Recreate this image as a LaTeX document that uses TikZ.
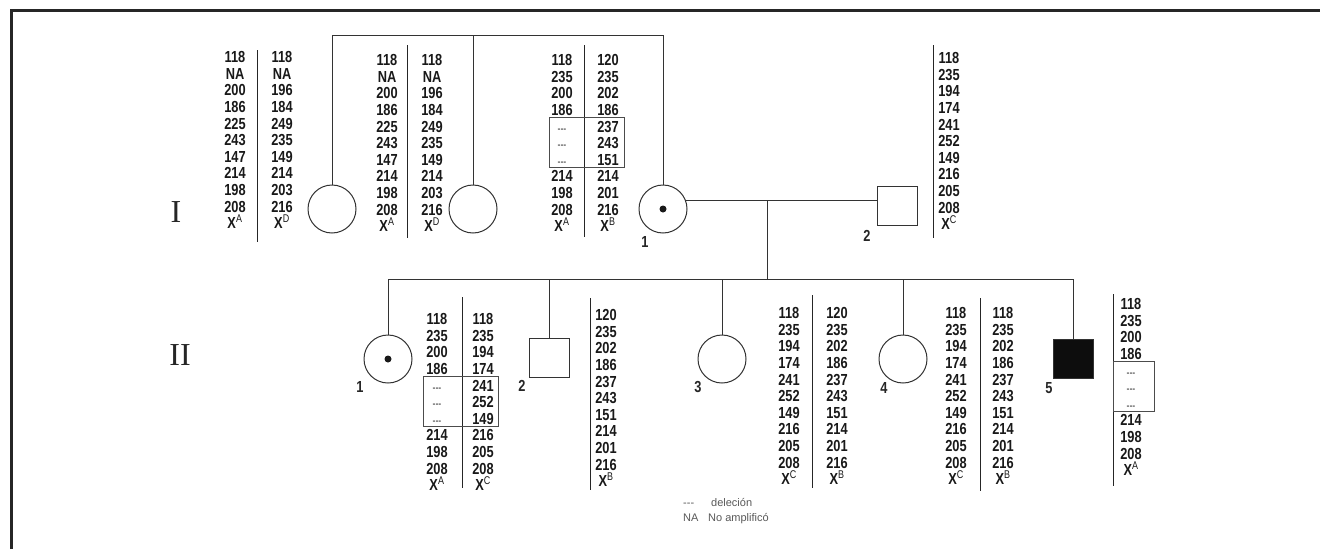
\documentclass[tikz,border=0pt]{standalone}
\usepackage{fontspec}
\newfontfamily\alfont[FakeStretch=0.8]{Liberation Sans}
\newfontfamily\legfont{Liberation Sans}
\newfontfamily\romfont{Liberation Serif}
\newcommand\xs[1]{X\textsuperscript{\mdseries #1}}
\newcommand\dl{{\mdseries\fontsize{11}{11}\selectfont -{}-{}-}}
\newcommand\allelecol[4]{%
  \foreach \v [count=\i] in {#4} {
    \node[al] (#1\i) at ({#2},{#3+16.6*(\i-1)+5.7}) {\v};
  }%
}
\tikzset{
  al/.style={anchor=base, inner sep=0pt, text=black!90,
    font=\alfont\bfseries\fontsize{16}{16}\selectfont},
  lbl/.style={inner sep=0pt, text=black!85,
    font=\alfont\bfseries\fontsize{16}{16}\selectfont},
  ped/.style={draw=black!80, line width=1pt},
  fem/.style={circle, ped, minimum size=48pt, inner sep=0pt},
  mal/.style={rectangle, ped, minimum width=40pt, minimum height=39pt, inner sep=0pt},
  dot/.style={circle, fill=black!90, minimum size=7pt, inner sep=0pt},
  sep/.style={draw=black!85, line width=0.9pt},
  delbox/.style={draw=black!70, line width=1pt},
  gen/.style={inner sep=0pt, text=black!85, font=\romfont\fontsize{32}{32}\selectfont},
  leg/.style={anchor=base west, inner sep=0pt, text=black!65, font=\legfont\fontsize{11}{11}\selectfont}
}
\begin{document}
\begin{tikzpicture}[x=1pt,y=-1pt]
\useasboundingbox (0,0) rectangle (1320,549);
\fill[white] (0,0) rectangle (1320,549);
% frame
\draw[line width=3pt, draw=black!85] (11.5,549) -- (11.5,10.5) -- (1320,10.5);

% generation labels
\node[gen] (gI) at (176,212) {I};
\node[gen] (gII) at (180,355) {II};

% ---------- Generation I ----------
\node[fem] (IA) at (332,209) {};
\node[fem] (IB) at (473,209) {};
\node[fem] (I1) at (663,209) {};
\node[dot] (I1d) at (I1) {};
\node[mal] (I2) at (897,205.5) {};
\node[lbl] (I1l) at (645,242) {1};
\node[lbl] (I2l) at (867,236) {2};

\coordinate (topI) at (0,35);
\draw[ped] (IA.north) -- (IA.north |- topI) -- (I1.north |- topI) -- (I1.north);
\draw[ped] (IB.north) -- (IB.north |- topI);
\draw[ped] (I1.20) -- (I1.20 -| I2.west);
\coordinate (mI) at (767,201);
\coordinate (sII) at (767,279);
\draw[ped] (mI) -- (sII);

% ---------- Generation II ----------
\node[fem] (II1) at (388,359) {};
\node[dot] (II1d) at (II1) {};
\node[mal] (II2) at (549,357.5) {};
\node[fem] (II3) at (722,359) {};
\node[fem] (II4) at (903,359) {};
\node[mal, fill=black!95] (II5) at (1073,359) {};
\node[lbl] (II1l) at (360,387) {1};
\node[lbl] (II2l) at (522,386) {2};
\node[lbl] (II3l) at (698,387) {3};
\node[lbl] (II4l) at (884,388) {4};
\node[lbl] (II5l) at (1049,388) {5};

\draw[ped] (II1.north) -- (II1.north |- sII) -- (II5.north |- sII) -- (II5.north);
\draw[ped] (II2.north) -- (II2.north |- sII);
\draw[ped] (II3.north) -- (II3.north |- sII);
\draw[ped] (II4.north) -- (II4.north |- sII);

% ---------- allele columns, generation I ----------
\allelecol{aL}{235}{57}{118,NA,200,186,225,243,147,214,198,208,{\xs{A}}}
\allelecol{aR}{282}{57}{118,NA,196,184,249,235,149,214,203,216,{\xs{D}}}
\draw[sep] (257,50) -- (257,242);

\allelecol{bL}{387}{60}{118,NA,200,186,225,243,147,214,198,208,{\xs{A}}}
\allelecol{bR}{432}{60}{118,NA,196,184,249,235,149,214,203,216,{\xs{D}}}
\draw[sep] (407,45) -- (407,238);

\allelecol{cL}{562}{60}{118,235,200,186,{\dl},{\dl},{\dl},214,198,208,{\xs{A}}}
\allelecol{cR}{608}{60}{120,235,202,186,237,243,151,214,201,216,{\xs{B}}}
\draw[sep] (584,45) -- (584,237);
\draw[delbox] (549,117) rectangle (624,167);

\allelecol{dR}{949}{58}{118,235,194,174,241,252,149,216,205,208,{\xs{C}}}
\draw[sep] (933,45) -- (933,238);

% ---------- allele columns, generation II ----------
\allelecol{eL}{437}{319}{118,235,200,186,{\dl},{\dl},{\dl},214,198,208,{\xs{A}}}
\allelecol{eR}{483}{319}{118,235,194,174,241,252,149,216,205,208,{\xs{C}}}
\draw[sep] (462,297) -- (462,488);
\draw[delbox] (423,376) rectangle (498,426);

\allelecol{fR}{606}{315}{120,235,202,186,237,243,151,214,201,216,{\xs{B}}}
\draw[sep] (590,298) -- (590,490);

\allelecol{gL}{789}{313}{118,235,194,174,241,252,149,216,205,208,{\xs{C}}}
\allelecol{gR}{837}{313}{120,235,202,186,237,243,151,214,201,216,{\xs{B}}}
\draw[sep] (812,295) -- (812,488);

\allelecol{hL}{956}{313}{118,235,194,174,241,252,149,216,205,208,{\xs{C}}}
\allelecol{hR}{1003}{313}{118,235,202,186,237,243,151,214,201,216,{\xs{B}}}
\draw[sep] (980,298) -- (980,491);

\allelecol{iR}{1131}{304}{118,235,200,186,{\dl},{\dl},{\dl},214,198,208,{\xs{A}}}
\draw[sep] (1113,294) -- (1113,486);
\draw[delbox] (1113,361) rectangle (1154,411);

% ---------- legend ----------
\node[leg] (lg1) at (683,506) {-{}-{}-};
\node[leg] (lg2) at (711,506) {deleción};
\node[leg] (lg3) at (683,521) {NA};
\node[leg] (lg4) at (708,521) {No amplificó};
\end{tikzpicture}
\end{document}
